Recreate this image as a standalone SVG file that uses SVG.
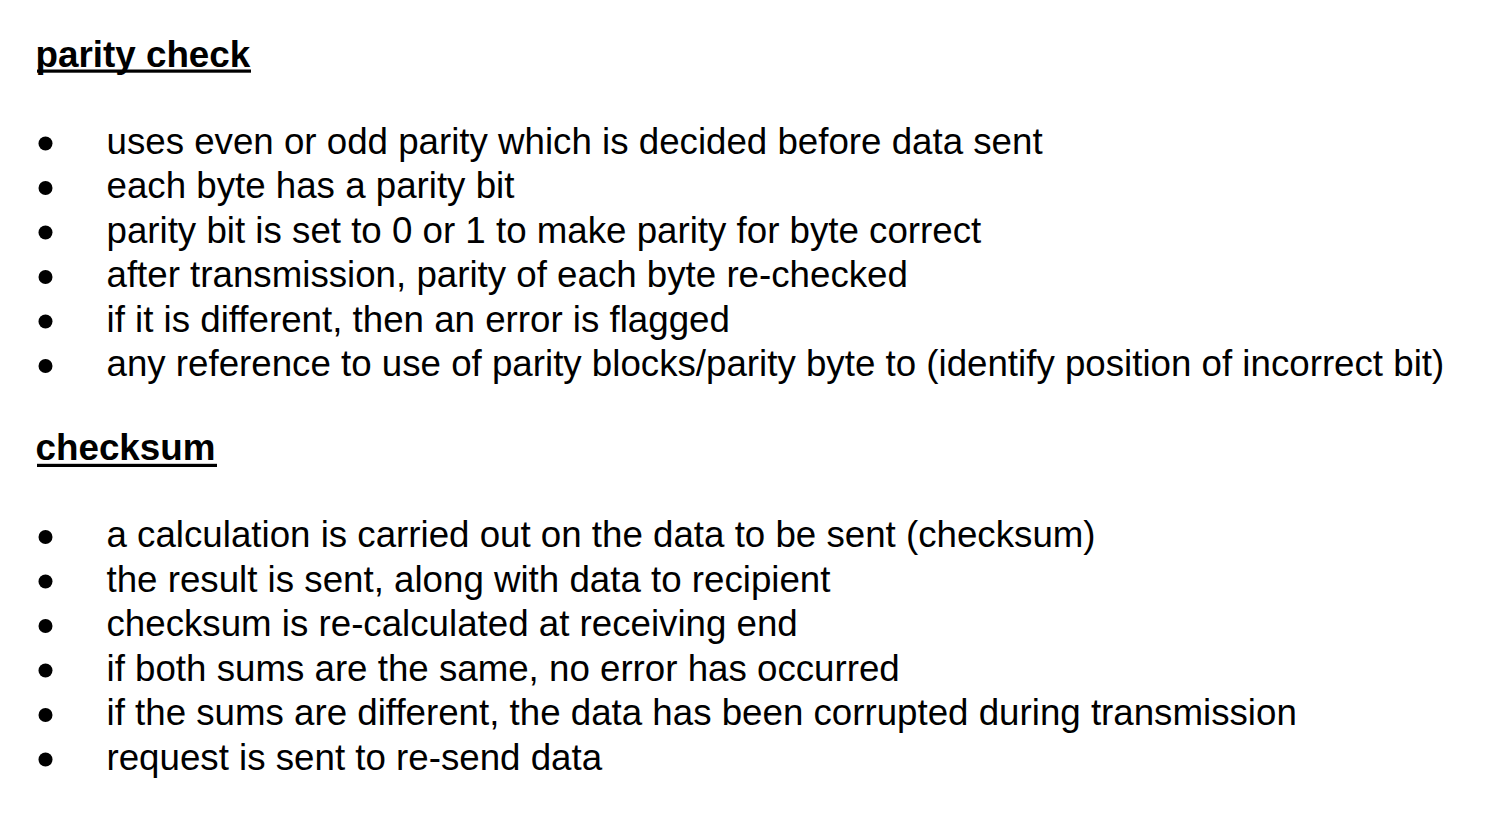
<svg xmlns="http://www.w3.org/2000/svg" width="1509" height="828" viewBox="0 0 1509 828">
<style>
.h{font-family:"Liberation Sans",Arial,sans-serif;font-size:36.8px;font-weight:bold;fill:#000}
.t{font-family:"Liberation Sans",Arial,sans-serif;font-size:36.7px;fill:#000}
.b{fill:#000}
.u{fill:#000}
</style>
<rect width="1509" height="828" fill="#fff"/>
<g id="parity-check">
<text class="h" x="35.5" y="66.5">parity check</text>
<rect class="u" x="37" y="69.5" width="214" height="3.2"/>
<g id="parity-bullets">
<circle class="b" cx="45.5" cy="143.5" r="7"/>
<text class="t" x="106.5" y="153.5">uses even or odd parity which is decided before data sent</text>
<circle class="b" cx="45.5" cy="188" r="7"/>
<text class="t" x="106.5" y="198">each byte has a parity bit</text>
<circle class="b" cx="45.5" cy="232.5" r="7"/>
<text class="t" x="106.5" y="242.5">parity bit is set to 0 or 1 to make parity for byte correct</text>
<circle class="b" cx="45.5" cy="277" r="7"/>
<text class="t" x="106.5" y="287">after transmission, parity of each byte re-checked</text>
<circle class="b" cx="45.5" cy="321.5" r="7"/>
<text class="t" x="106.5" y="331.5">if it is different, then an error is flagged</text>
<circle class="b" cx="45.5" cy="366" r="7"/>
<text class="t" x="106.5" y="376">any reference to use of parity blocks/parity byte to (identify position of incorrect bit)</text>
</g>
</g>
<g id="checksum">
<text class="h" x="35.5" y="460">checksum</text>
<rect class="u" x="37" y="463.8" width="180" height="3.2"/>
<g id="checksum-bullets">
<circle class="b" cx="45.5" cy="537" r="7"/>
<text class="t" x="106.5" y="547">a calculation is carried out on the data to be sent (checksum)</text>
<circle class="b" cx="45.5" cy="581.5" r="7"/>
<text class="t" x="106.5" y="591.5">the result is sent, along with data to recipient</text>
<circle class="b" cx="45.5" cy="626" r="7"/>
<text class="t" x="106.5" y="636">checksum is re-calculated at receiving end</text>
<circle class="b" cx="45.5" cy="670.5" r="7"/>
<text class="t" x="106.5" y="680.5">if both sums are the same, no error has occurred</text>
<circle class="b" cx="45.5" cy="715" r="7"/>
<text class="t" x="106.5" y="725">if the sums are different, the data has been corrupted during transmission</text>
<circle class="b" cx="45.5" cy="759.5" r="7"/>
<text class="t" x="106.5" y="769.5">request is sent to re-send data</text>
</g>
</g>
</svg>
